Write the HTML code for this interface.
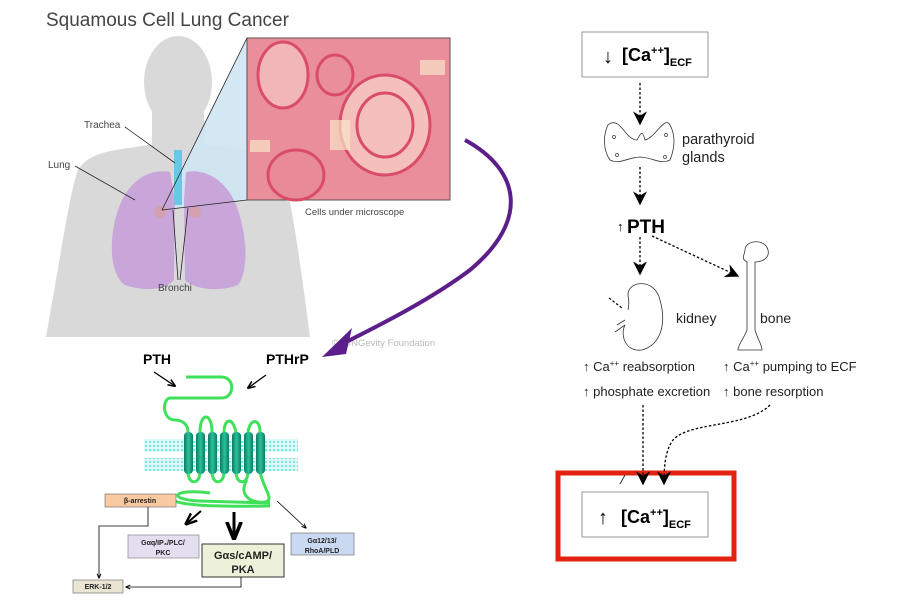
<!DOCTYPE html>
<html><head><meta charset="utf-8"><style>
body{margin:0;background:#fff;width:900px;height:600px;overflow:hidden}
svg{display:block;font-family:"Liberation Sans",sans-serif}
</style></head><body>
<svg width="900" height="600" viewBox="0 0 900 600">
<defs>
<marker id="ah" viewBox="0 0 10 10" refX="9" refY="5" markerWidth="14" markerHeight="14" markerUnits="userSpaceOnUse" orient="auto"><path d="M0,0 L10,5 L0,10 L3,5z" fill="#000"/></marker>
<marker id="sa" viewBox="0 0 10 10" refX="9" refY="5" markerWidth="6" markerHeight="6" orient="auto"><path d="M0,1 L10,5 L0,9" fill="none" stroke="#000" stroke-width="2"/></marker>
<pattern id="mem" width="4" height="4" patternUnits="userSpaceOnUse"><rect width="4" height="4" fill="#e0fbf8"/><circle cx="2" cy="2" r="1.2" fill="#7fe6dc"/></pattern>
<linearGradient id="hel" x1="0" x2="1"><stop offset="0" stop-color="#0d7a62"/><stop offset=".5" stop-color="#2bc29a"/><stop offset="1" stop-color="#0d7a62"/></linearGradient>
</defs>
<text x="46" y="26" font-size="19" fill="#444">Squamous Cell Lung Cancer</text>
<g fill="#d9d9d9">
<ellipse cx="178" cy="82" rx="34" ry="46"/>
<rect x="152" y="110" width="52" height="50"/>
<path d="M148,145 C120,150 90,150 78,170 C70,190 60,260 46,337 L310,337 C300,260 290,190 282,170 C270,150 240,150 210,145z"/>
</g>
<path d="M162,210 L247,38 L247,200z" fill="#cfe6f2" opacity=".9"/>
<path d="M170,172 C150,168 128,180 118,210 C108,240 110,275 125,285 C145,292 165,290 174,280 L175,200z" fill="#c9a6d9"/>
<path d="M186,172 C205,168 228,180 238,210 C248,240 248,272 238,285 C220,292 195,290 185,280 L184,200z" fill="#c9a6d9"/>
<rect x="174" y="150" width="8" height="55" fill="#6cc7e6"/>
<circle cx="160" cy="212" r="6" fill="#d4a0b0"/><circle cx="195" cy="212" r="6" fill="#d4a0b0"/>
<g stroke="#222" stroke-width="0.8" fill="none">
<line x1="125" y1="127" x2="175" y2="163"/>
<line x1="75" y1="166" x2="135" y2="200"/>
<line x1="162" y1="210" x2="247" y2="38"/>
<line x1="162" y1="210" x2="247" y2="200"/>
<line x1="178" y1="280" x2="173" y2="210"/><line x1="180" y1="280" x2="188" y2="208"/>
</g>
<text x="84" y="128" font-size="10" fill="#444">Trachea</text>
<text x="48" y="168" font-size="10" fill="#444">Lung</text>
<text x="158" y="291" font-size="10" fill="#444">Bronchi</text>
<rect x="247" y="38" width="203" height="162" fill="#eb8e9c" stroke="#555"/>
<g fill="none" stroke="#d94d6a" stroke-width="3">
<ellipse cx="283" cy="75" rx="25" ry="33" fill="#f2b6b8"/>
<ellipse cx="385" cy="125" rx="45" ry="50" fill="#f5c0bc"/>
<ellipse cx="385" cy="125" rx="28" ry="32"/>
<ellipse cx="296" cy="175" rx="28" ry="25" fill="#e98a98"/>
<ellipse cx="335" cy="75" rx="18" ry="20"/>
</g>
<g fill="#f8e6c8" opacity=".7"><rect x="250" y="140" width="20" height="12"/><rect x="420" y="60" width="25" height="15"/><rect x="330" y="120" width="20" height="30"/></g>
<text x="305" y="215" font-size="9.5" fill="#444">Cells under microscope</text>
<text x="332" y="346" font-size="9.5" fill="#bbb">©LUNGevity Foundation</text>
<path d="M465,140 C520,170 530,220 470,270 C430,300 380,325 340,345" fill="none" stroke="#5b1e8a" stroke-width="4"/>
<path d="M322,357 L352,328 L346,354z" fill="#5b1e8a"/>
<text x="143" y="364" font-size="14" font-weight="bold">PTH</text>
<text x="266" y="364" font-size="14" font-weight="bold">PTHrP</text>
<line x1="154" y1="372" x2="175" y2="386" stroke="#000" stroke-width="1.3" marker-end="url(#sa)"/>
<line x1="266" y1="375" x2="248" y2="388" stroke="#000" stroke-width="1.3" marker-end="url(#sa)"/>
<rect x="144" y="439" width="154" height="13" fill="url(#mem)"/>
<rect x="144" y="458" width="154" height="13" fill="url(#mem)"/>
<path d="M186,377 L222,377 C236,378 234,398 222,398 L170,398 C162,399 162,420 175,420 C182,420 188,424 188,432 M200,432 C200,412 212,412 212,432 M224,432 C224,420 232,415 236,432 M248,432 C250,418 260,418 260,432 M188,472 C188,485 200,485 200,472 M212,472 C212,485 224,485 224,472 M236,472 C236,485 248,485 248,472 M260,472 C264,490 275,500 265,502 C250,504 238,494 247,480 M210,493 C170,488 168,500 200,501 L270,503 M170,497 C172,505 205,507 270,506" fill="none" stroke="#3fe05a" stroke-width="3"/>
<g fill="url(#hel)">
<rect x="184" y="432" width="9" height="42" rx="4"/><rect x="196" y="432" width="9" height="42" rx="4"/><rect x="208" y="432" width="9" height="42" rx="4"/><rect x="220" y="432" width="9" height="42" rx="4"/><rect x="232" y="432" width="9" height="42" rx="4"/><rect x="244" y="432" width="9" height="42" rx="4"/><rect x="256" y="432" width="9" height="42" rx="4"/>
</g>
<g font-size="7" font-weight="bold" text-anchor="middle" fill="#222">
<rect x="105" y="494" width="71" height="13" fill="#f9c9a2" stroke="#777" stroke-width=".7"/><text x="140" y="503">β-arrestin</text>
<rect x="73" y="580" width="50" height="13" fill="#e9e5d2" stroke="#777" stroke-width=".7"/><text x="98" y="589">ERK-1/2</text>
<rect x="128" y="535" width="71" height="23" fill="#e3def0" stroke="#888" stroke-width=".7"/><text x="163" y="545">Gαq/IP₃/PLC/</text><text x="163" y="555">PKC</text>
<rect x="291" y="533" width="63" height="22" fill="#c9d9f2" stroke="#777" stroke-width=".7"/><text x="322" y="543">Gα12/13/</text><text x="322" y="553">RhoA/PLD</text>
<rect x="202" y="544" width="82" height="33" fill="#eef1d9" stroke="#333" stroke-width="1"/>
<text x="243" y="559" font-size="11">Gαs/cAMP/</text><text x="243" y="573" font-size="11">PKA</text>
</g>
<g stroke="#000" fill="none">
<line x1="201" y1="511" x2="186" y2="524" stroke-width="2" marker-end="url(#sa)"/>
<line x1="234" y1="512" x2="234" y2="538" stroke-width="3" marker-end="url(#sa)"/>
<line x1="277" y1="501" x2="306" y2="528" stroke-width=".8" marker-end="url(#sa)"/>
<path d="M148,507 V526 H99 V578" stroke-width=".8" marker-end="url(#sa)"/>
<path d="M241,577 V587 H126" stroke-width=".8" marker-end="url(#sa)"/>
</g>
<rect x="558" y="473" width="176" height="86" fill="none" stroke="#e2230f" stroke-width="5"/>
<rect x="582" y="32" width="126" height="45" fill="#fff" stroke="#999"/>
<text x="603" y="63" font-size="20">↓</text>
<text x="622" y="61" font-size="18" font-weight="bold">[Ca<tspan font-size="11" dy="-7">++</tspan><tspan dy="7">]</tspan><tspan font-size="11" dy="5">ECF</tspan></text>
<g stroke="#000" stroke-width="1.3" stroke-dasharray="2.5,2" fill="none">
<line x1="640" y1="83" x2="640" y2="124" marker-end="url(#ah)"/>
<line x1="640" y1="167" x2="640" y2="204" marker-end="url(#ah)"/>
<line x1="640" y1="237" x2="640" y2="274" marker-end="url(#ah)"/>
<line x1="652" y1="236" x2="738" y2="276" marker-end="url(#ah)"/>
<line x1="643" y1="405" x2="643" y2="484" marker-end="url(#ah)"/>
<path d="M770,405 C745,430 680,420 670,445 C665,455 664,468 664,484" marker-end="url(#ah)"/>
<line x1="609" y1="298" x2="622" y2="308"/>
</g>
<path d="M608,125 C620,115 625,140 637,140 C640,135 642,128 645,140 C655,138 665,115 670,125 C678,140 672,155 670,160 C660,165 655,158 640,157 C625,158 620,165 610,160 C603,150 603,135 608,125z" fill="none" stroke="#333" stroke-width=".8"/>
<g fill="none" stroke="#333" stroke-width=".7"><circle cx="614" cy="137" r="1.5"/><circle cx="666" cy="135" r="1.5"/><circle cx="617" cy="155" r="1.5"/><circle cx="665" cy="157" r="1.5"/></g>
<text x="682" y="144" font-size="14.5" fill="#222">parathyroid</text>
<text x="682" y="162" font-size="14.5" fill="#222">glands</text>
<text x="617" y="231" font-size="13" font-weight="bold">↑</text>
<text x="627" y="233" font-size="19" font-weight="bold">PTH</text>
<path d="M628,295 C628,280 655,278 660,300 C667,325 660,345 642,350 C625,352 620,335 625,325 L615,332 M625,320 L617,325 M628,310 C630,300 628,298 628,295" fill="none" stroke="#333" stroke-width=".8"/>
<path d="M745,250 C745,240 765,238 768,250 C770,258 762,262 755,262 L755,330 C758,340 762,345 762,350 L738,350 C738,345 743,340 747,330 L747,262 C740,258 745,255 745,250z" fill="none" stroke="#333" stroke-width=".8"/>
<text x="676" y="323" font-size="14" fill="#222">kidney</text>
<text x="760" y="323" font-size="14" fill="#222">bone</text>
<g font-size="13" fill="#222">
<text x="583" y="371">↑ Ca<tspan font-size="8" dy="-5">++</tspan><tspan dy="5"> reabsorption</tspan></text>
<text x="583" y="396">↑ phosphate excretion</text>
<text x="723" y="371">↑ Ca<tspan font-size="8" dy="-5">++</tspan><tspan dy="5"> pumping to ECF</tspan></text>
<text x="723" y="396">↑ bone resorption</text>
</g>
<line x1="620" y1="484" x2="625" y2="475" stroke="#333"/>
<rect x="582" y="492" width="126" height="45" fill="#fff" stroke="#999"/>
<text x="598" y="524" font-size="20">↑</text>
<text x="621" y="523" font-size="18" font-weight="bold">[Ca<tspan font-size="11" dy="-7">++</tspan><tspan dy="7">]</tspan><tspan font-size="11" dy="5">ECF</tspan></text>
</svg>
</body></html>
